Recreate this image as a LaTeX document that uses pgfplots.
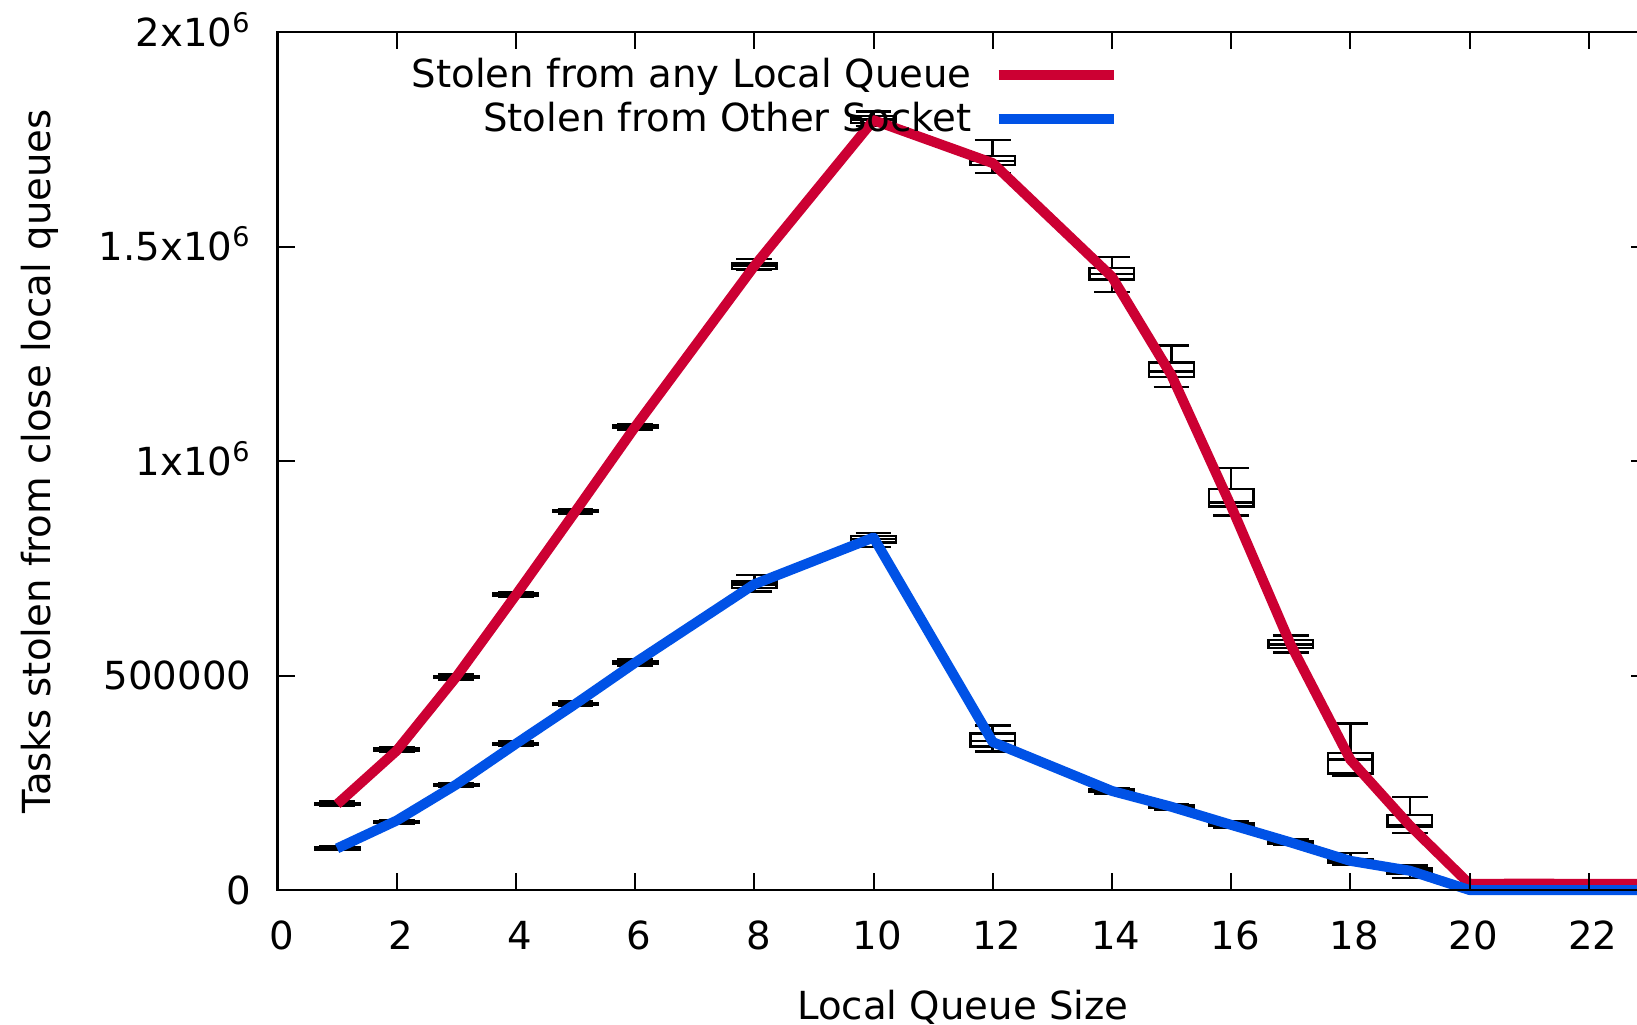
\documentclass[border=0pt]{standalone}
\usepackage{fontspec}
\setmainfont{DejaVu Sans}
\usepackage{pgfplots}
\pgfplotsset{compat=1.18}
\usepgfplotslibrary{statistics}

\definecolor{anyq}{RGB}{204,0,51}
\definecolor{othersock}{RGB}{0,82,230}

% one box-and-whisker glyph (values in millions of tasks):
% position, lower whisker, lower quartile, median, upper quartile, upper whisker
\newcommand{\qbox}[6]{%
  \addplot[black, line width=0.7pt, solid, forget plot,
    boxplot/draw direction=y,
    boxplot prepared={draw position=#1, lower whisker=#2, lower quartile=#3,
      median=#4, upper quartile=#5, upper whisker=#6, box extend=0.75}]
    coordinates {};}

\begin{document}
\fontsize{11}{13}\selectfont
\begin{tikzpicture}
\begin{axis}[
  scale only axis, width=137.08mm, height=85.77mm,
  xmin=0, xmax=23, ymin=0, ymax=2,
  clip=false, axis on top,
  axis line style={line width=0.57pt},
  every tick/.style={black, line width=0.57pt},
  major tick length=1.7mm, tick align=inside,
  xtick={0,2,...,22},
  ytick={0,0.5,1,1.5,2},
  yticklabels={0,500000,1x10\textsuperscript{6},1.5x10\textsuperscript{6},2x10\textsuperscript{6}},
  /pgf/number format/assume math mode=true,
  xticklabel style={anchor=base, inner sep=0pt, yshift=-5.99mm, xshift=0.4mm},
  yticklabel style={anchor=base east, inner sep=0pt, xshift=-2.55mm, yshift=-1.41mm},
  xlabel={Local Queue Size},
  ylabel={Tasks stolen from close local queues},
  xlabel style={at={(rel axis cs:0.5,0)}, anchor=north, inner sep=0pt, yshift=-9.9mm},
  % the label is turned by 90 degrees, so its own y direction points left
  ylabel style={at={(rel axis cs:0,0.5)}, anchor=north, inner sep=0pt, yshift=25.7mm},
  legend cell align=right,
  legend plot pos=right,
  legend style={draw=none, fill=none, inner sep=0pt,
    at={(rel axis cs:0.6141,0.971)}, anchor=north east,
    column sep=2.2mm, row sep=2.5pt,
    nodes={inner sep=0pt, text depth=0.15em}},
  legend image code/.code={\draw[#1] (0mm,0mm) -- (11.5mm,0mm);},
]
\coordinate (O) at (rel axis cs:0,0);

% spread of the runs, stolen from any local queue
\qbox{1}{0.196}{0.199}{0.201}{0.203}{0.206}
\qbox{2}{0.322}{0.325}{0.327}{0.330}{0.333}
\qbox{3}{0.491}{0.494}{0.496}{0.499}{0.502}
\qbox{4}{0.683}{0.686}{0.688}{0.691}{0.694}
\qbox{5}{0.878}{0.881}{0.883}{0.886}{0.889}
\qbox{6}{1.073}{1.077}{1.080}{1.083}{1.087}
\qbox{8}{1.446}{1.448}{1.455}{1.461}{1.471}
\qbox{10}{1.782}{1.788}{1.797}{1.805}{1.815}
\qbox{12}{1.672}{1.690}{1.700}{1.712}{1.749}
\qbox{14}{1.394}{1.424}{1.436}{1.451}{1.476}
\qbox{15}{1.173}{1.196}{1.209}{1.230}{1.270}
\qbox{16}{0.873}{0.894}{0.904}{0.935}{0.984}
\qbox{17}{0.554}{0.564}{0.573}{0.583}{0.593}
\qbox{18}{0.266}{0.272}{0.304}{0.319}{0.388}
\qbox{19}{0.133}{0.148}{0.152}{0.175}{0.217}

% spread of the runs, stolen from the other socket
\qbox{1}{0.093}{0.095}{0.097}{0.099}{0.101}
\qbox{2}{0.154}{0.156}{0.158}{0.160}{0.163}
\qbox{3}{0.241}{0.243}{0.245}{0.247}{0.250}
\qbox{4}{0.337}{0.339}{0.341}{0.343}{0.346}
\qbox{5}{0.429}{0.431}{0.434}{0.436}{0.440}
\qbox{6}{0.524}{0.527}{0.530}{0.533}{0.538}
\qbox{8}{0.696}{0.704}{0.712}{0.719}{0.735}
\qbox{10}{0.800}{0.810}{0.818}{0.826}{0.832}
\qbox{12}{0.323}{0.335}{0.348}{0.365}{0.384}
\qbox{14}{0.224}{0.228}{0.231}{0.234}{0.238}
\qbox{15}{0.188}{0.191}{0.194}{0.197}{0.200}
\qbox{16}{0.146}{0.149}{0.152}{0.156}{0.160}
\qbox{17}{0.105}{0.108}{0.111}{0.114}{0.118}
\qbox{18}{0.060}{0.063}{0.067}{0.072}{0.086}
\qbox{19}{0.028}{0.038}{0.045}{0.050}{0.057}

\addplot[anyq, line width=2.85pt, line join=round] coordinates {
  (1,0.200) (2,0.325) (3,0.497) (4,0.688) (5,0.883) (6,1.080)
  (8,1.455) (10,1.795) (12,1.695) (14,1.430) (15,1.200)
  (16,0.895) (17,0.572) (18,0.304) (19,0.150) (20,0.014)
  (21,0.015) (22,0.014) (23,0.014)};
\addlegendentry{Stolen from any Local Queue}

\addplot[othersock, line width=2.85pt, line join=round] coordinates {
  (1,0.097) (2,0.162) (3,0.246) (4,0.341) (5,0.434) (6,0.530)
  (8,0.713) (10,0.822) (12,0.345) (14,0.231) (15,0.194)
  (16,0.152) (17,0.111) (18,0.068) (19,0.045) (20,0)
  (21,0) (22,0) (23,0)};
\addlegendentry{Stolen from Other Socket}
\end{axis}
\pgfresetboundingbox
\path[use as bounding box] ([xshift=-27.75mm,yshift=-13.4mm]O) rectangle ++(163.7mm,102.4mm);
\end{tikzpicture}
\end{document}
